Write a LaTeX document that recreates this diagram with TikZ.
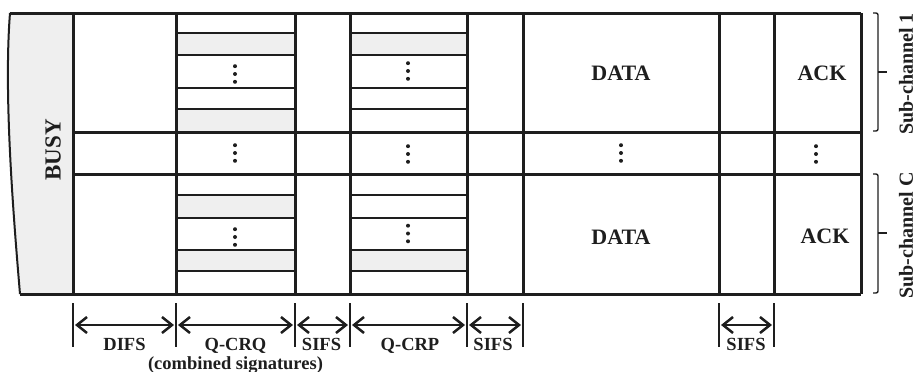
\documentclass[tikz,border=0pt]{standalone}
\usepackage{fontspec}
\setmainfont{Liberation Serif}
\usetikzlibrary{arrows.meta}
\definecolor{ink}{HTML}{1E1E1E}
\definecolor{cellgray}{HTML}{EFEFEF}
\begin{document}
\begin{tikzpicture}[x=1pt,y=-1pt,
  thickline/.style={draw=ink,line width=3pt},
  thinline/.style={draw=ink,line width=1.4pt},
  graycell/.style={fill=cellgray},
  lbl/.style={font=\fontsize{22}{22}\selectfont\bfseries,text=ink,inner sep=0pt},
  sidelbl/.style={font=\fontsize{20}{20}\selectfont\bfseries,text=ink,inner sep=0pt,rotate=90},
  dimlbl/.style={font=\fontsize{18.5}{18.5}\selectfont\bfseries,text=ink,inner sep=0pt,anchor=base},
  dimtick/.style={draw=ink,line width=2.8pt},
  dimarrow/.style={draw=ink,line width=1.9pt,shorten <=2pt,shorten >=2pt,
     {Straight Barb[length=10pt,width=16pt,line width=2.5pt]}-{Straight Barb[length=10pt,width=16pt,line width=2.5pt]}},
  bracket/.style={draw=ink,line width=1.4pt,rounded corners=2pt},
  pics/vdots/.style={code={\foreach \k in {-1,0,1} \fill[ink] (0,\k*7.8) circle[radius=2pt];}}
]
\useasboundingbox (0,0) rectangle (916,372);

% BUSY region
\path[graycell] (10,13) .. controls (4,90) and (12,200) .. (20,294) -- (73,294) -- (73,13) -- cycle;
\draw[ink,line width=2pt] (10,13) .. controls (4,90) and (12,200) .. (20,294);
\node[lbl,font=\fontsize{23}{23}\selectfont\bfseries,rotate=90] (busy) at (53,150) {BUSY};

% gray sub-slots
\path[graycell] (176,33) rectangle (295,55);
\path[graycell] (176,109) rectangle (295,132);
\path[graycell] (350,33) rectangle (467,55);
\path[graycell] (176,195) rectangle (295,218);
\path[graycell] (176,250) rectangle (295,271);
\path[graycell] (350,250) rectangle (467,271);

% thin sub-slot lines
\foreach \y in {33,55,88,109,195,218,250,271} {
  \draw[thinline] (176,\y) -- (295,\y);
  \draw[thinline] (350,\y) -- (467,\y);
}

% thick frame
\draw[thickline] (10,13) -- (861,13);
\draw[thickline] (20,294) -- (861,294);
\draw[thickline] (73,132) -- (861,132);
\draw[thickline] (73,174) -- (861,174);
\foreach \x in {73,176,295,350,467,523,719,774,861}
  \draw[thickline] (\x,13) -- (\x,294);

% texts in cells
\node[lbl] (data1) at (621,73) {DATA};
\node[lbl] (data2) at (621,237) {DATA};
\node[lbl] (ack1) at (822,73) {ACK};
\node[lbl] (ack2) at (825,236) {ACK};

% vertical dots
\pic at (235,74) {vdots};
\pic at (408,71) {vdots};
\pic at (235,153) {vdots};
\pic at (408,154) {vdots};
\pic at (621,153) {vdots};
\pic at (816,154) {vdots};
\pic at (235,237) {vdots};
\pic at (408,233.5) {vdots};

% brackets
\draw[bracket] (873,13) -- (878,13) -- (878,131) -- (873,131);
\draw[ink,line width=1.4pt] (878,72) -- (887,72);
\draw[bracket] (873,174) -- (878,174) -- (878,293) -- (873,293);
\draw[ink,line width=1.4pt] (878,233) -- (887,233);
\node[sidelbl] (sub1) at (906,74) {Sub-channel 1};
\node[sidelbl] (subC) at (906,235.5) {Sub-channel C};

% dimension ticks
\foreach \n/\x in {a/73,b/176,c/295,d/350,e/467,f/523,g/719,h/774} {
  \coordinate (t\n) at (\x,303);
  \coordinate (b\n) at (\x,347);
  \coordinate (m\n) at (\x,325);
  \draw[dimtick] (t\n) -- (b\n);
}
\draw[dimarrow] (ma) -- (mb);
\draw[dimarrow] (mb) -- (mc);
\draw[dimarrow] (mc) -- (md);
\draw[dimarrow] (md) -- (me);
\draw[dimarrow] (me) -- (mf);
\draw[dimarrow] (mg) -- (mh);

\node[dimlbl] (difs) at (124.5,350) {DIFS};
\node[dimlbl] (qcrq) at (235.5,350) {Q-CRQ};
\node[dimlbl] (comb) at (235.5,369) {(combined signatures)};
\node[dimlbl] (sifs1) at (321.5,350) {SIFS};
\node[dimlbl] (qcrp) at (410,350) {Q-CRP};
\node[dimlbl] (sifs2) at (493,350) {SIFS};
\node[dimlbl] (sifs3) at (746,350) {SIFS};
\end{tikzpicture}
\end{document}
